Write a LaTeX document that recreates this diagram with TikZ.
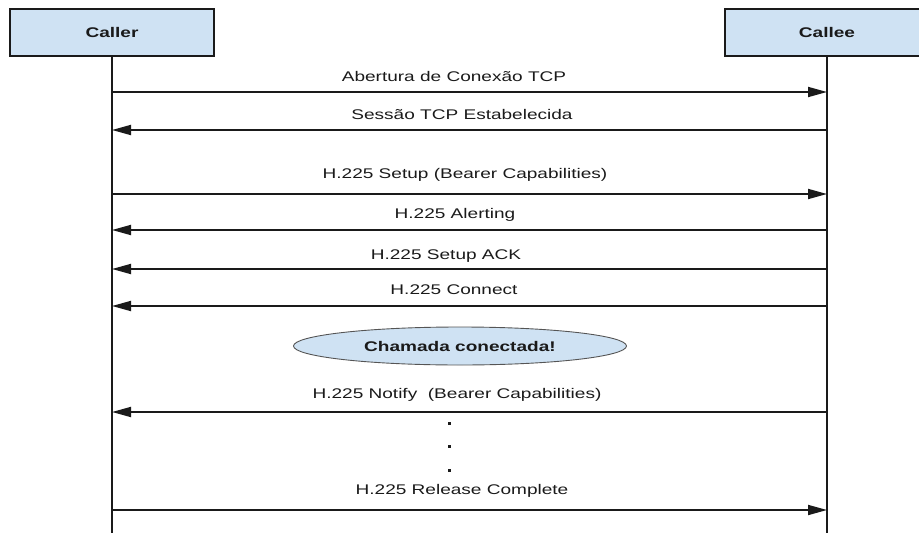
\documentclass[tikz,border=0pt]{standalone}
\usepackage{fontspec}
\setmainfont{Liberation Sans}[FakeStretch=1.36]
\usetikzlibrary{arrows.meta,shapes.geometric}
\definecolor{actorfill}{HTML}{CFE2F3}
\definecolor{ink}{HTML}{1A1A1A}
\definecolor{rim}{HTML}{555555}
\begin{document}
\begin{tikzpicture}[x=1pt,y=-1pt,
  actor/.style={draw=ink,line width=1.5pt,fill=actorfill,minimum width=204pt,
    minimum height=47pt,inner sep=0pt,font=\fontsize{14}{16}\selectfont\bfseries,text=ink},
  lifeline/.style={draw=ink,line width=1.4pt},
  msg/.style={draw=ink,line width=1.8pt,-{Triangle[length=19pt,width=10pt]}},
  msglabel/.style={inner sep=0pt,font=\fontsize{14}{16}\selectfont,text=ink},
  stateoval/.style={ellipse,draw=rim,line width=0.9pt,fill=actorfill,minimum width=333pt,
    minimum height=38pt,inner sep=0pt,font=\fontsize{14}{16}\selectfont\bfseries,text=ink},
  dotmark/.style={fill=ink,minimum size=3pt,inner sep=0pt}]
\useasboundingbox (0,0) rectangle (919,533);
\clip (0,0) rectangle (919,533);

% participants and their lifelines
\node[actor] (caller) at (112,32.5) {Caller};
\node[actor] (callee) at (827,32.5) {Callee};
\coordinate (callerEnd) at (112,540);
\coordinate (calleeEnd) at (827,540);
\draw[lifeline] (caller.south) -- (callerEnd);
\draw[lifeline] (callee.south) -- (calleeEnd);

% message end points on the lifelines
\foreach \n/\y in {1/92,2/130,3/194,4/230,5/269,6/306,7/412,8/510}{
  \coordinate (L\n) at (112,\y);
  \coordinate (R\n) at (827,\y);
}

% messages
\node[msglabel] (m1) at (454,76) {Abertura de Conexão TCP};
\draw[msg] (L1) -- (R1);
\node[msglabel] (m2) at (462,114) {Sessão TCP Estabelecida};
\draw[msg] (R2) -- (L2);
\node[msglabel] (m3) at (465,175) {H.225 Setup (Bearer Capabilities)};
\draw[msg] (L3) -- (R3);
\node[msglabel] (m4) at (455,215) {H.225 Alerting};
\draw[msg] (R4) -- (L4);
\node[msglabel] (m5) at (446,256) {H.225 Setup ACK};
\draw[msg] (R5) -- (L5);
\node[msglabel] (m6) at (454,290) {H.225 Connect};
\draw[msg] (R6) -- (L6);

% call state
\node[stateoval] (state) at (460,346) {Chamada conectada!};

\node[msglabel] (m7) at (457,395) {H.225 Notify\ \ (Bearer Capabilities)};
\draw[msg] (R7) -- (L7);

% omitted exchanges
\node[dotmark] (d1) at (449,423) {};
\node[dotmark] (d2) at (449,446) {};
\node[dotmark] (d3) at (449,470) {};

\node[msglabel] (m8) at (462,491) {H.225 Release Complete};
\draw[msg] (L8) -- (R8);
\end{tikzpicture}
\end{document}
